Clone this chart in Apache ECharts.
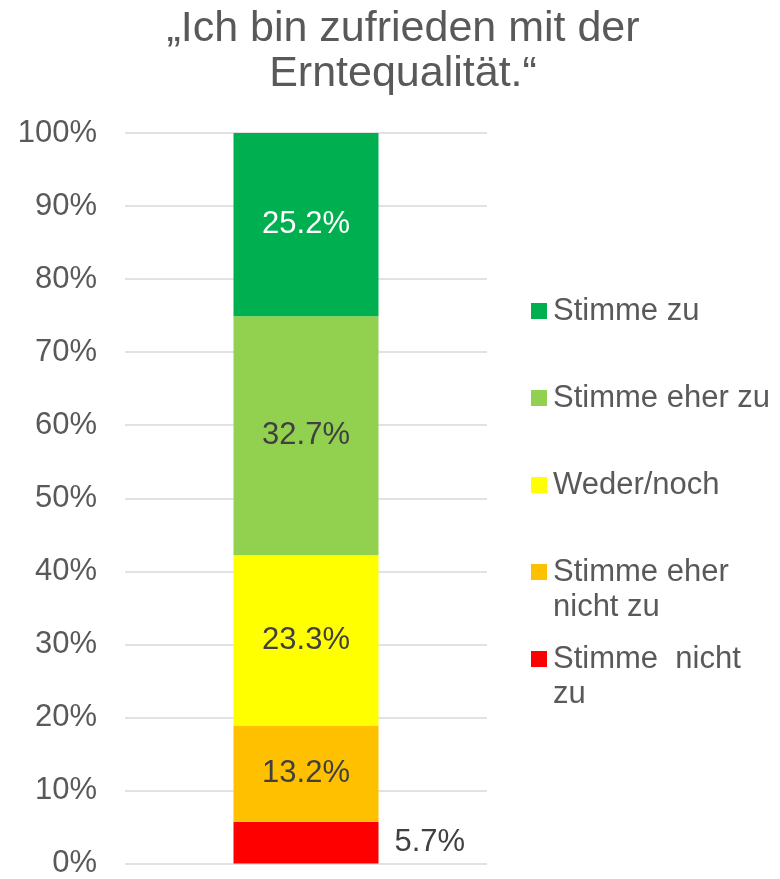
<!DOCTYPE html>
<html>
<head>
<meta charset="utf-8">
<script src="https://cdn.jsdelivr.net/npm/echarts@6/dist/echarts.min.js"></script>
<style>
  html, body { margin: 0; padding: 0; background: #fff; }
  #chart { width: 780px; height: 879px; }
</style>
</head>
<body>
<div id="chart"></div>
<script>
// Daten (von unten nach oben gestapelt)
var categories = ["Ernte"];
var seriesNames = ["Stimme  nicht\nzu", "Stimme eher\nnicht zu", "Weder/noch", "Stimme eher zu", "Stimme zu"];
var seriesValues = [5.7, 13.2, 23.3, 32.7, 25.2];
var seriesColors = ["#FF0000", "#FFC000", "#FFFF00", "#92D050", "#00B050"];
var yTicks = [0, 10, 20, 30, 40, 50, 60, 70, 80, 90, 100];

var font = "Liberation Sans, Arial, sans-serif";
var textGray = "#595959";
var labelGray = "#404040";

var myChart = echarts.init(document.getElementById("chart"));

var series = [];
for (var i = 0; i < seriesNames.length; i++) {
    series.push({
        name: seriesNames[i],
        type: "bar",
        stack: "a",
        barWidth: 145,
        data: [seriesValues[i]],
        itemStyle: { color: seriesColors[i] },
        label: {
            show: true,
            position: i === 0 ? "right" : "inside",
            distance: 16,
            fontFamily: font,
            fontSize: 31,
            color: i === seriesNames.length - 1 ? "#FFFFFF" : labelGray,
            formatter: function (p) { return p.value.toFixed(1) + "%"; }
        }
    });
}

// Legende: ein Eintrag pro Zeile, von oben "Stimme zu" bis "Stimme nicht zu"
var legendCenters = [311, 398, 485, 572, 659];
var legends = [];
for (var k = 0; k < seriesNames.length; k++) {
    var name = seriesNames[seriesNames.length - 1 - k];
    var multi = name.indexOf("\n") >= 0;
    legends.push({
        data: [name],
        orient: "vertical",
        left: 531,
        top: multi ? legendCenters[k] - 52.5 : legendCenters[k] - 17.5,
        padding: 0,
        icon: "rect",
        itemWidth: 16,
        itemHeight: 16,
        selectedMode: false,
        // leere erste Zeile, damit das Symbol neben der ersten Textzeile steht
        formatter: function (n) { return n.indexOf("\n") >= 0 ? "\n" + n : n; },
        textStyle: {
            fontFamily: font,
            fontSize: 31,
            color: textGray,
            lineHeight: 35,
            padding: [0, 0, 0, 1]
        }
    });
}

var option = {
    animation: false,
    title: {
        text: "\u201EIch bin zufrieden mit der\nErntequalit\u00E4t.\u201C",
        left: 398,
        top: 2,
        textAlign: "center",
        textStyle: {
            fontFamily: font,
            fontSize: 43,
            fontWeight: "normal",
            color: textGray,
            lineHeight: 45
        }
    },
    legend: legends,
    grid: { left: 125, right: 293, top: 133, bottom: 12, containLabel: false },
    xAxis: {
        type: "category",
        data: categories,
        axisLine: { show: false },
        axisTick: { show: false },
        axisLabel: { show: false }
    },
    yAxis: {
        type: "value",
        min: yTicks[0],
        max: yTicks[yTicks.length - 1],
        interval: 10,
        axisLine: { show: false },
        axisTick: { show: false },
        axisLabel: {
            formatter: "{value}%",
            margin: 28,
            fontFamily: font,
            fontSize: 31,
            color: textGray
        },
        splitLine: { lineStyle: { color: "#D9D9D9", width: 1.5 } }
    },
    series: series
};

myChart.setOption(option);
</script>
</body>
</html>
